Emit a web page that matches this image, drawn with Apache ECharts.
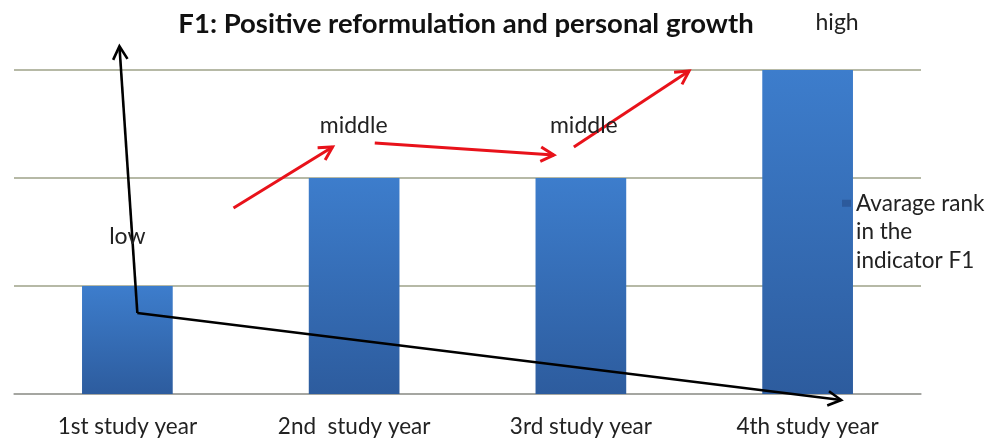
<!DOCTYPE html>
<html>
<head>
<meta charset="utf-8">
<script src="https://cdn.jsdelivr.net/npm/echarts@6/dist/echarts.min.js"></script>
<style>html,body{margin:0;padding:0;background:#fff;}#c{width:1002px;height:441px;}</style>
</head>
<body>
<div id="c"></div>
<script>
// ---- data ----
var categories = ['1st study year', '2nd  study year', '3rd study year', '4th study year'];
var rankValues = [1, 2, 2, 3];
var seriesName = 'Avarage rank\nin the\nindicator F1';
var titleText = 'F1: Positive reformulation and personal growth';
// annotation arrows: [xStart, yStart, xEnd, yEnd] in (category index, value) units
var blackArrows = [[0.044, 0.75, -0.035, 3.22], [0.044, 0.75, 3.148, -0.056]];
var redArrows = [[0.468, 1.722, 0.905, 2.287], [1.091, 2.324, 1.881, 2.213], [1.969, 2.287, 2.477, 2.99]];
// level labels: [x, y, text]
var levelLabels = [[0, 1.46, 'low'], [0.998, 2.49, 'middle'], [2.013, 2.49, 'middle'], [3.13, 3.44, 'high']];

var FONT = 'Lato';
var chart = echarts.init(document.getElementById('c'));

function arrowRender(color, width) {
  return function (params, api) {
    var p1 = api.coord([api.value(0), api.value(1)]);
    var p2 = api.coord([api.value(2), api.value(3)]);
    var ang = Math.atan2(p2[1] - p1[1], p2[0] - p1[0]);
    var L = 15, a = 0.5;
    var h1 = [p2[0] - L * Math.cos(ang - a), p2[1] - L * Math.sin(ang - a)];
    var h2 = [p2[0] - L * Math.cos(ang + a), p2[1] - L * Math.sin(ang + a)];
    var st = {stroke: color, lineWidth: width, fill: null, lineJoin: 'miter', lineCap: 'butt'};
    return {
      type: 'group',
      children: [
        {type: 'polyline', shape: {points: [p1, p2]}, style: st},
        {type: 'polyline', shape: {points: [h1, p2, h2]}, style: st}
      ]
    };
  };
}

chart.setOption({
  animation: false,
  title: {
    text: titleText, left: 461, top: 5, textAlign: 'center',
    textStyle: {fontFamily: FONT, fontWeight: 'bold', fontSize: 27.5, color: '#111'}
  },
  legend: {
    left: 837, top: 184, orient: 'vertical', z: 10,
    icon: 'path://M0,0H9V7H0Z M0,64L9,64Z', itemWidth: 9, itemHeight: 64, itemGap: 0,
    itemStyle: {color: '#2c5a9c'},
    data: [seriesName],
    textStyle: {fontFamily: FONT, fontSize: 22.5, color: '#222', lineHeight: 28.5}
  },
  grid: {left: 14, right: 81, top: 70, bottom: 47},
  xAxis: [{
    type: 'category', data: categories,
    axisLine: {lineStyle: {color: '#a0a0a0', width: 1.5}},
    axisTick: {show: false},
    axisLabel: {fontFamily: FONT, fontSize: 22.5, color: '#222', margin: 21}
  }, {
    type: 'value', min: -0.5, max: 3.5, show: false
  }],
  yAxis: [{
    type: 'value', min: 0, max: 3, interval: 1,
    axisLabel: {show: false}, axisLine: {show: false}, axisTick: {show: false},
    splitLine: {lineStyle: {color: '#9ea289', width: 1.5}}
  }],
  series: [{
    name: seriesName, type: 'bar', data: rankValues, barWidth: '40%',
    itemStyle: {
      color: new echarts.graphic.LinearGradient(0, 0, 0, 1, [
        {offset: 0, color: '#3d7dcc'}, {offset: 1, color: '#2d5c9e'}
      ])
    }
  }, {
    type: 'custom', xAxisIndex: 1, yAxisIndex: 0, clip: false, silent: true, z: 5,
    data: blackArrows, encode: {x: [0, 2], y: [1, 3]},
    renderItem: arrowRender('#000', 2.6)
  }, {
    type: 'custom', xAxisIndex: 1, yAxisIndex: 0, clip: false, silent: true, z: 5,
    data: redArrows, encode: {x: [0, 2], y: [1, 3]},
    renderItem: arrowRender('#e8121a', 3)
  }, {
    type: 'custom', xAxisIndex: 1, yAxisIndex: 0, clip: false, silent: true, z: 6,
    data: levelLabels, encode: {x: 0, y: 1},
    renderItem: function (params, api) {
      var p = api.coord([api.value(0), api.value(1)]);
      return {type: 'text', x: p[0], y: p[1], style: {
        text: levelLabels[params.dataIndex][2], fontFamily: FONT, fontSize: 23, fill: '#222',
        align: 'center', verticalAlign: 'middle'
      }};
    }
  }]
});
</script>
</body>
</html>
